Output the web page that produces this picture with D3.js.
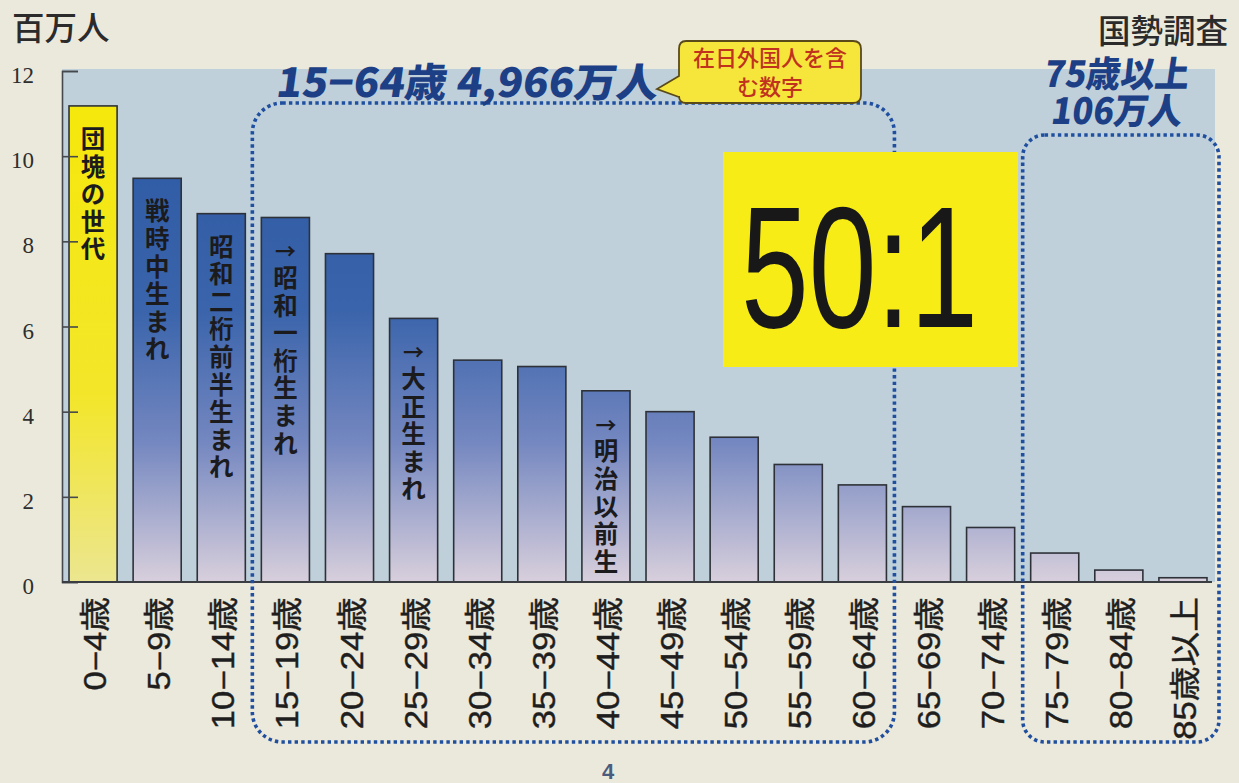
<!DOCTYPE html>
<html>
<head>
<meta charset="utf-8">
<script src="https://cdn.jsdelivr.net/npm/d3@7"></script>
<style>
  html, body { margin: 0; padding: 0; background: #ebe9dc; }
  svg { display: block; }
</style>
</head>
<body>
<svg id="chart" width="1239" height="783"></svg>
<script>
// Population by five-year age group (millions), census
const ageGroups = ["0−4歳", "5−9歳", "10−14歳", "15−19歳", "20−24歳", "25−29歳",
  "30−34歳", "35−39歳", "40−44歳", "45−49歳", "50−54歳", "55−59歳", "60−64歳",
  "65−69歳", "70−74歳", "75−79歳", "80−84歳", "85歳以上"];
const population = [11.18, 9.48, 8.65, 8.56, 7.71, 6.19, 5.21, 5.06, 4.49, 4.00,
  3.40, 2.76, 2.28, 1.77, 1.28, 0.68, 0.28, 0.10];
const yTicks = [0, 2, 4, 6, 8, 10, 12];

// Generation notes written inside bars
const noteBars = ["0−4歳", "5−9歳", "10−14歳", "15−19歳", "25−29歳", "40−44歳"];
const noteTexts = ["団塊の世代", "戦時中生まれ", "昭和二桁前半生まれ", "→昭和一桁生まれ", "→大正生まれ", "→明治以前生"];

// Bracketed groups
const groupFirst = ["15−19歳", "75−79歳"];
const groupLast = ["60−64歳", "85歳以上"];
const groupTitles = [["15−64歳 4,966万人"], ["75歳以上", "106万人"]];

const svg = d3.select("#chart");

const x = d3.scaleBand().domain(ageGroups).range([61, 1215]).paddingInner(0.25).paddingOuter(0.125);
const y = d3.scaleLinear().domain([0, 12]).range([582, 71]);

const defs = svg.append("defs");
const blueGrad = defs.append("linearGradient").attr("id", "barBlue")
  .attr("gradientUnits", "userSpaceOnUse").attr("x1", 0).attr("x2", 0).attr("y1", y(11)).attr("y2", y(0));
[[0, "#2d5aa4"], [0.42, "#3a64ab"], [0.7, "#7487c0"], [1, "#d8cfdc"]].forEach(([o, c]) =>
  blueGrad.append("stop").attr("offset", o).attr("stop-color", c));
const yellowGrad = defs.append("linearGradient").attr("id", "barYellow")
  .attr("gradientUnits", "userSpaceOnUse").attr("x1", 0).attr("x2", 0).attr("y1", y(11)).attr("y2", y(0));
[[0, "#f5e80c"], [0.6, "#f3e62a"], [1, "#ece690"]].forEach(([o, c]) =>
  yellowGrad.append("stop").attr("offset", o).attr("stop-color", c));

// Plot background
svg.append("rect").attr("x", 62).attr("y", 69).attr("width", 1153).attr("height", y(0) - 69)
  .attr("fill", "#bfd0db");

// Bars
svg.append("g").selectAll("rect").data(ageGroups).join("rect")
  .attr("x", d => x(d))
  .attr("y", (d, i) => y(population[i]))
  .attr("width", x.bandwidth())
  .attr("height", (d, i) => y(0) - y(population[i]))
  .attr("fill", (d, i) => i === 0 ? "url(#barYellow)" : "url(#barBlue)")
  .attr("stroke", "#2e3238").attr("stroke-width", 1.6);

// Vertical notes inside bars, one character per line
const noteG = svg.append("g").attr("font-family", "'Noto Sans CJK JP', sans-serif")
  .attr("font-weight", 700).attr("fill", "#1b1b1d").attr("text-anchor", "middle");
noteBars.forEach((bar, k) => {
  const i = ageGroups.indexOf(bar);
  const cx = x(bar) + x.bandwidth() / 2;
  const top = y(population[i]) + 42;
  const t = noteG.append("text").attr("x", cx).attr("y", top).attr("font-size", 24.5);
  Array.from(noteTexts[k]).forEach((ch, j) => {
    t.append("tspan")
      .attr("x", cx)
      .attr("dy", j === 0 ? 0 : 27.6)
      .attr("font-size", ch === "→" ? 21 : 24.5)
      .text(ch);
  });
});

// Y axis with inward ticks
const yAxis = svg.append("g").attr("transform", "translate(62,0)")
  .call(d3.axisLeft(y).tickValues(yTicks).tickSize(-16).tickSizeOuter(-16).tickPadding(28).tickFormat(d3.format("d")));
yAxis.select(".domain").attr("stroke", "#45484c").attr("stroke-width", 1.6);
yAxis.selectAll(".tick line").attr("stroke", "#45484c").attr("stroke-width", 1.6);
yAxis.selectAll(".tick text").attr("font-family", "'Liberation Serif', serif")
  .attr("font-size", 23).attr("fill", "#2e2e2e").attr("dy", "0.5em");

// Baseline
svg.append("line").attr("x1", 62).attr("x2", 1212).attr("y1", y(0)).attr("y2", y(0))
  .attr("stroke", "#3a3d42").attr("stroke-width", 2);

// Category labels, rotated
svg.append("g").selectAll("text").data(ageGroups).join("text")
  .attr("transform", d => `translate(${x(d) + x.bandwidth() / 2 + 13},597) rotate(-90) scale(1.12,1)`)
  .attr("text-anchor", "end")
  .attr("font-family", "'Liberation Sans Narrow', 'Arial Narrow', 'Liberation Sans', 'Noto Sans CJK JP', sans-serif")
  .attr("font-size", 31)
  .attr("fill", "#1e1e1e")
  .attr("stroke", "#1e1e1e").attr("stroke-width", 0.4)
  .text(d => d);

// Dotted group frames
const frames = svg.append("g").attr("fill", "none").attr("stroke", "#1f4f9e")
  .attr("stroke-width", 3.6).attr("stroke-dasharray", "3.4 3.2");
frames.append("rect")
  .attr("x", x(groupFirst[0]) - 9).attr("y", 103)
  .attr("width", x(groupLast[0]) + x.bandwidth() + 8 - (x(groupFirst[0]) - 9)).attr("height", 742 - 103)
  .attr("rx", 30);
frames.append("rect")
  .attr("x", x(groupFirst[1]) - 8).attr("y", 135)
  .attr("width", x(groupLast[1]) + x.bandwidth() + 12 - (x(groupFirst[1]) - 8)).attr("height", 742 - 135)
  .attr("rx", 22);

// Group headings
const heading = svg.append("g").attr("font-family", "'Noto Sans CJK JP', sans-serif")
  .attr("font-weight", 900).attr("fill", "#1d3f85");
heading.append("text").attr("transform", "translate(275,97) skewX(-8)")
  .attr("font-size", 40).attr("textLength", 382).attr("lengthAdjust", "spacingAndGlyphs")
  .text(groupTitles[0][0]);
heading.append("text").attr("transform", "translate(1043,87) skewX(-8)")
  .attr("font-size", 36).attr("textLength", 145).attr("lengthAdjust", "spacingAndGlyphs")
  .text(groupTitles[1][0]);
heading.append("text").attr("transform", "translate(1050,124) skewX(-8)")
  .attr("font-size", 36).attr("textLength", 131).attr("lengthAdjust", "spacingAndGlyphs")
  .text(groupTitles[1][1]);

// Callout
const callout = svg.append("g");
callout.append("path")
  .attr("d", "M686,41 H853 Q861,41 861,49 V95 Q861,103 853,103 H686 Q679,103 679,96 L679,97 L657,89 L679,76 V49 Q679,41 686,41 Z")
  .attr("fill", "#f6e63c").attr("stroke", "#5a4a1a").attr("stroke-width", 1.8);
callout.append("text").attr("x", 770).attr("y", 66).attr("text-anchor", "middle")
  .attr("font-family", "'Noto Sans CJK JP', sans-serif").attr("font-weight", 500)
  .attr("font-size", 22).attr("fill", "#c0321e").text("在日外国人を含");
callout.append("text").attr("x", 770).attr("y", 95).attr("text-anchor", "middle")
  .attr("font-family", "'Noto Sans CJK JP', sans-serif").attr("font-weight", 500)
  .attr("font-size", 22).attr("fill", "#c0321e").text("む数字");

// Ratio box
svg.append("rect").attr("x", 723).attr("y", 152).attr("width", 295).attr("height", 215)
  .attr("fill", "#f7ec16");
svg.append("text").attr("x", 741).attr("y", 327)
  .attr("font-family", "'Liberation Sans', Arial, sans-serif").attr("font-size", 172)
  .attr("textLength", 237).attr("lengthAdjust", "spacingAndGlyphs")
  .attr("fill", "#181818").text("50:1");

// Unit and source
svg.append("text").attr("x", 12).attr("y", 40)
  .attr("font-family", "'Noto Sans CJK JP', sans-serif").attr("font-weight", 500)
  .attr("font-size", 32.5).attr("fill", "#2b2b2b").text("百万人");
svg.append("text").attr("x", 1228).attr("y", 43).attr("text-anchor", "end")
  .attr("font-family", "'Noto Sans CJK JP', sans-serif").attr("font-weight", 500)
  .attr("font-size", 32.5).attr("fill", "#2b2b2b").text("国勢調査");

// Page number
svg.append("text").attr("x", 608).attr("y", 779).attr("text-anchor", "middle")
  .attr("font-family", "'Liberation Sans', sans-serif").attr("font-weight", 700)
  .attr("font-size", 22).attr("fill", "#4b5d7e").text("4");
</script>
</body>
</html>
